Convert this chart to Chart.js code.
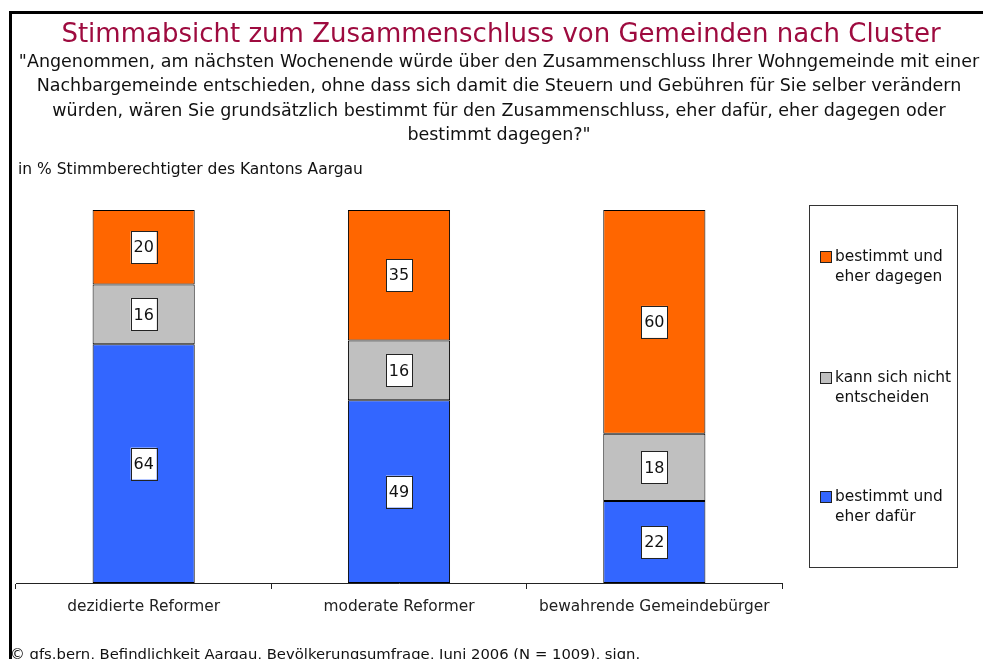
<!DOCTYPE html>
<html>
<head>
<meta charset="utf-8">
<script src="https://cdn.jsdelivr.net/npm/chart.js@4/dist/chart.umd.min.js"></script>
<style>
  html, body { margin: 0; padding: 0; background: #fff; }
  #wrap { width: 983px; height: 659px; position: relative; }
</style>
</head>
<body>
<div id="wrap"><canvas id="chart" width="983" height="659"></canvas></div>
<script>
const categories = ['dezidierte Reformer', 'moderate Reformer', 'bewahrende Gemeindebürger'];
const dafuer = [64, 49, 22];
const unentschieden = [16, 16, 18];
const dagegen = [20, 35, 60];

const seriesNames = [
    ['bestimmt und', 'eher dafür'],
    ['kann sich nicht', 'entscheiden'],
    ['bestimmt und', 'eher dagegen']
];
const colors = ['#3366FF', '#C0C0C0', '#FF6600'];

const titleText = 'Stimmabsicht zum Zusammenschluss von Gemeinden nach Cluster';
const questionLines = [
    '"Angenommen, am nächsten Wochenende würde über den Zusammenschluss Ihrer Wohngemeinde mit einer',
    'Nachbargemeinde entschieden, ohne dass sich damit die Steuern und Gebühren für Sie selber verändern',
    'würden, wären Sie grundsätzlich bestimmt für den Zusammenschluss, eher dafür, eher dagegen oder',
    'bestimmt dagegen?"'
];
const unitText = 'in % Stimmberechtigter des Kantons Aargau';
const sourceText = '© gfs.bern, Befindlichkeit Aargau, Bevölkerungsumfrage, Juni 2006 (N = 1009), sign.';

const FONT = '"DejaVu Sans", Verdana, sans-serif';

// frame, titles, legend, footer
const decorations = {
    id: 'decorations',
    beforeDraw(chart) {
        const ctx = chart.ctx;
        ctx.save();
        ctx.fillStyle = '#fff';
        ctx.fillRect(0, 0, chart.width, chart.height);
        ctx.fillStyle = '#000';
        ctx.fillRect(9, 11, chart.width - 9, 3);
        ctx.fillRect(9, 11, 3, chart.height - 11);

        ctx.textAlign = 'center';
        ctx.textBaseline = 'middle';
        ctx.fillStyle = '#9E0B3F';
        ctx.font = '26px ' + FONT;
        ctx.fillText(titleText, 501, 35);

        ctx.fillStyle = '#111';
        ctx.font = '17.5px ' + FONT;
        questionLines.forEach((l, i) => ctx.fillText(l, 499, 62 + i * 24.6));

        ctx.textAlign = 'left';
        ctx.font = '15.5px ' + FONT;
        ctx.fillText(unitText, 18, 170);

        ctx.font = '14.8px ' + FONT;
        ctx.fillText(sourceText, 10, 655);

        // legend
        ctx.strokeStyle = '#333';
        ctx.lineWidth = 1;
        ctx.strokeRect(809.5, 205.5, 148, 362);
        const itemY = [497, 378, 257];
        seriesNames.forEach((name, i) => {
            ctx.fillStyle = colors[i];
            ctx.fillRect(820, itemY[i] - 6, 12, 12);
            ctx.strokeStyle = '#222';
            ctx.strokeRect(820.5, itemY[i] - 5.5, 11, 11);
            ctx.fillStyle = '#111';
            ctx.font = '15.4px ' + FONT;
            ctx.fillText(name[0], 835, itemY[i]);
            ctx.fillText(name[1], 835, itemY[i] + 20);
        });
        ctx.restore();
    }
};

// white boxed value labels
const valueBoxes = {
    id: 'valueBoxes',
    afterDatasetsDraw(chart) {
        const ctx = chart.ctx;
        ctx.save();
        ctx.font = '16px ' + FONT;
        ctx.textAlign = 'center';
        ctx.textBaseline = 'middle';
        chart.data.datasets.forEach((ds, di) => {
            chart.getDatasetMeta(di).data.forEach((bar, i) => {
                const cx = bar.x;
                const cy = (bar.y + bar.base) / 2;
                ctx.fillStyle = '#fff';
                ctx.fillRect(cx - 13, cy - 16, 26, 32);
                ctx.strokeStyle = '#222';
                ctx.lineWidth = 1;
                ctx.strokeRect(Math.round(cx - 13) + 0.5, Math.round(cy - 16) + 0.5, 26, 32);
                ctx.fillStyle = '#111';
                ctx.fillText(String(ds.data[i]), cx, cy + 1);
            });
        });
        ctx.restore();
    }
};

new Chart(document.getElementById('chart'), {
    type: 'bar',
    data: {
        labels: categories,
        datasets: [
            { label: seriesNames[0].join(' '), data: dafuer, backgroundColor: colors[0] },
            { label: seriesNames[1].join(' '), data: unentschieden, backgroundColor: colors[1] },
            { label: seriesNames[2].join(' '), data: dagegen, backgroundColor: colors[2] }
        ].map(d => Object.assign(d, {
            borderColor: '#000',
            borderWidth: 1,
            borderSkipped: false,
            barPercentage: 0.4,
            categoryPercentage: 1
        }))
    },
    options: {
        responsive: false,
        animation: false,
        layout: { padding: { left: 16, right: 201, top: 210, bottom: 0 } },
        plugins: {
            legend: { display: false },
            title: { display: false },
            tooltip: { enabled: false }
        },
        scales: {
            x: {
                stacked: true,
                afterFit(scale) { scale.height = 76; },
                grid: {
                    offset: true,
                    drawOnChartArea: false,
                    tickLength: 6,
                    color: '#222'
                },
                border: { color: '#222', width: 1 },
                ticks: {
                    padding: 9,
                    color: '#222',
                    font: { family: FONT, size: 15.4 }
                }
            },
            y: {
                stacked: true,
                display: false,
                min: 0,
                max: 100
            }
        }
    },
    plugins: [decorations, valueBoxes]
});
</script>
</body>
</html>
